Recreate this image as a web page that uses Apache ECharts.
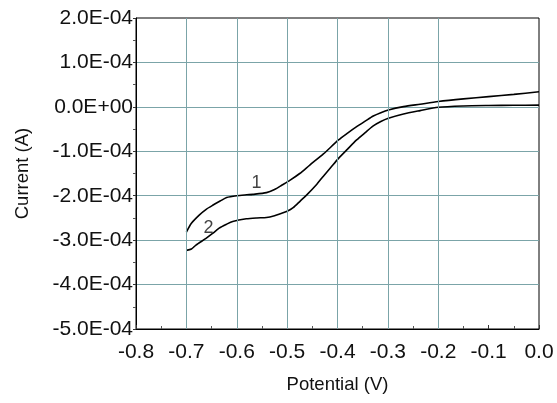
<!DOCTYPE html>
<html>
<head>
<meta charset="utf-8">
<script src="https://cdn.jsdelivr.net/npm/echarts@6/dist/echarts.min.js"></script>
<style>
  html, body { margin: 0; padding: 0; background: #fff; }
  #chart { width: 557px; height: 403px; }
</style>
</head>
<body>
<div id="chart"></div>
<script>
// curve 1 (upper)
var potential1 = [-0.700, -0.690, -0.674, -0.660, -0.647, -0.633, -0.620, -0.600, -0.580, -0.568, -0.541, -0.525, -0.510, -0.494, -0.475, -0.455, -0.428, -0.398, -0.380, -0.362, -0.345, -0.329, -0.314, -0.299, -0.269, -0.236, -0.200, -0.150, -0.100, -0.050, 0.000];
var current1 = [-2.82e-4, -2.62e-4, -2.43e-4, -2.30e-4, -2.21e-4, -2.12e-4, -2.04e-4, -2.00e-4, -1.98e-4, -1.97e-4, -1.93e-4, -1.86e-4, -1.76e-4, -1.65e-4, -1.50e-4, -1.31e-4, -1.06e-4, -0.745e-4, -0.59e-4, -0.445e-4, -0.32e-4, -0.205e-4, -0.13e-4, -0.07e-4, 0.005e-4, 0.06e-4, 0.12e-4, 0.18e-4, 0.23e-4, 0.28e-4, 0.34e-4];

// curve 2 (lower)
var potential2 = [-0.700, -0.690, -0.681, -0.661, -0.648, -0.635, -0.620, -0.608, -0.581, -0.560, -0.541, -0.525, -0.515, -0.500, -0.488, -0.474, -0.461, -0.441, -0.428, -0.413, -0.398, -0.380, -0.362, -0.345, -0.329, -0.314, -0.299, -0.269, -0.236, -0.200, -0.150, -0.100, -0.050, 0.000];
var current2 = [-3.23e-4, -3.20e-4, -3.11e-4, -2.96e-4, -2.85e-4, -2.73e-4, -2.64e-4, -2.58e-4, -2.52e-4, -2.50e-4, -2.49e-4, -2.45e-4, -2.41e-4, -2.35e-4, -2.27e-4, -2.12e-4, -1.98e-4, -1.74e-4, -1.56e-4, -1.36e-4, -1.16e-4, -0.95e-4, -0.745e-4, -0.58e-4, -0.43e-4, -0.33e-4, -0.257e-4, -0.16e-4, -0.085e-4, -0.01e-4, 0.02e-4, 0.03e-4, 0.035e-4, 0.04e-4];

// curve labels
var curveNames = ['1', '2'];
var labelPotential = [-0.561, -0.656];
var labelCurrent = [-1.71e-4, -2.72e-4];

// vertical grid lines drawn in the original (none at -0.1)
var xGridLines = [-0.7, -0.6, -0.5, -0.4, -0.3, -0.2];

var gridColor = '#7ba4a8';
var fontName = 'Liberation Sans, Arial, sans-serif';

function pairs(xs, ys) {
  return xs.map(function (x, i) { return [x, ys[i]]; });
}

function sciLabel(v) {
  if (Math.abs(v) < 1e-12) return '0.0E+00';
  var s = v.toExponential(1).toUpperCase();
  var parts = s.split('E');
  var exp = parseInt(parts[1], 10);
  var sign = exp < 0 ? '-' : '+';
  var e = Math.abs(exp);
  return parts[0] + 'E' + sign + (e < 10 ? '0' + e : e);
}

var chart = echarts.init(document.getElementById('chart'));

var option = {
  animation: false,
  backgroundColor: '#fff',
  textStyle: { fontFamily: fontName },
  grid: {
    left: 136,
    right: 18,
    top: 18,
    bottom: 74,
    show: true,
    borderColor: '#000',
    borderWidth: 1,
    backgroundColor: 'transparent'
  },
  xAxis: {
    type: 'value',
    min: -0.8,
    max: 0,
    interval: 0.1,
    name: 'Potential (V)',
    nameLocation: 'middle',
    nameGap: 46,
    nameTextStyle: { fontSize: 18.5, color: '#111', fontFamily: fontName },
    axisLine: { onZero: false, lineStyle: { color: '#000', width: 1 } },
    axisTick: { show: true, inside: true, length: 4, lineStyle: { color: '#333' } },
    minorTick: { show: true, splitNumber: 2, length: 3, lineStyle: { color: '#555' } },
    axisLabel: {
      fontSize: 21,
      color: '#111',
      margin: 13,
      fontFamily: fontName,
      formatter: function (v) { return v.toFixed(1); }
    },
    splitLine: { show: false }
  },
  yAxis: {
    type: 'value',
    min: -5e-4,
    max: 2e-4,
    interval: 1e-4,
    name: 'Current (A)',
    nameLocation: 'middle',
    nameGap: 104,
    nameTextStyle: { fontSize: 18.5, color: '#111', fontFamily: fontName },
    axisLine: { onZero: false, lineStyle: { color: '#000', width: 1 } },
    axisTick: { show: true, length: 3, lineStyle: { color: '#333' } },
    minorTick: { show: true, splitNumber: 2, length: 3, lineStyle: { color: '#555' } },
    axisLabel: {
      fontSize: 21,
      color: '#111',
      margin: 3,
      fontFamily: fontName,
      formatter: sciLabel
    },
    splitLine: {
      show: true,
      showMinLine: false,
      showMaxLine: false,
      lineStyle: { color: gridColor, width: 1 }
    }
  },
  series: [
    {
      name: 'grid',
      type: 'line',
      data: [],
      silent: true,
      markLine: {
        silent: true,
        symbol: 'none',
        animation: false,
        label: { show: false },
        lineStyle: { color: gridColor, width: 1, type: 'solid' },
        data: xGridLines.map(function (x) { return { xAxis: x }; })
      }
    },
    {
      name: 'curve1',
      type: 'line',
      data: pairs(potential1, current1),
      showSymbol: false,
      smooth: 0.25,
      lineStyle: { color: '#000', width: 1.6 },
      z: 3
    },
    {
      name: 'curve2',
      type: 'line',
      data: pairs(potential2, current2),
      showSymbol: false,
      smooth: 0.25,
      lineStyle: { color: '#000', width: 1.6 },
      z: 3
    },
    {
      name: 'labels',
      type: 'scatter',
      symbolSize: 0,
      data: curveNames.map(function (n, i) {
        return { name: n, value: [labelPotential[i], labelCurrent[i]] };
      }),
      label: {
        show: true,
        position: 'inside',
        formatter: '{b}',
        fontSize: 18,
        color: '#111',
        fontFamily: fontName
      },
      z: 4
    }
  ]
};

chart.setOption(option);
</script>
</body>
</html>
